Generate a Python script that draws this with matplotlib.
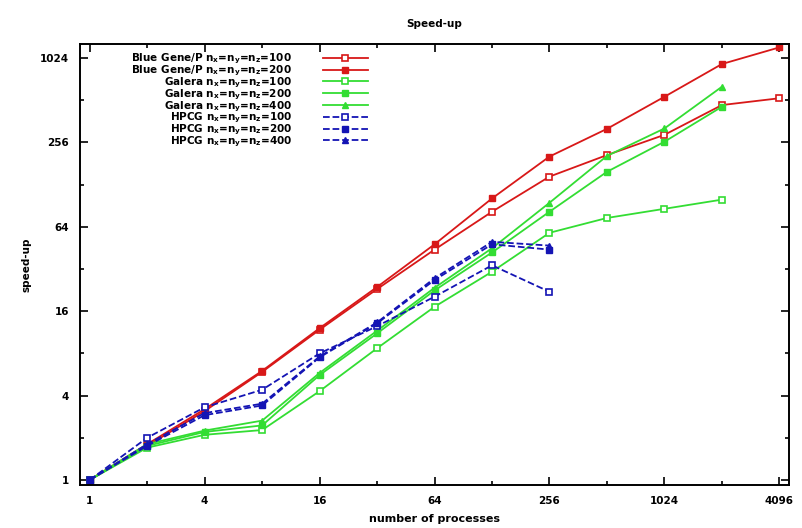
import matplotlib
matplotlib.use("Agg")
import matplotlib.pyplot as plt
from matplotlib.ticker import NullFormatter

procs = [1, 2, 4, 8, 16, 32, 64, 128, 256, 512, 1024, 2048, 4096]
procs_hpcg = [1, 2, 4, 8, 16, 32, 64, 128, 256]

bgp_100 = [1, 1.75, 3.1, 5.9, 11.8, 23.0, 44, 82, 146, 208, 290, 473, 529]
bgp_200 = [1, 1.8, 3.2, 6.0, 12.1, 23.8, 48, 102, 203, 320, 542, 928, 1220]
galera_100 = [1, 1.7, 2.1, 2.27, 4.3, 8.7, 17.2, 30.6, 58, 74, 86, 100]
galera_200 = [1, 1.75, 2.2, 2.45, 5.6, 11.1, 22.5, 42, 82, 158, 259, 460]
galera_400 = [1, 1.8, 2.25, 2.65, 5.8, 11.6, 23.5, 45, 95, 205, 322, 639]
hpcg_100 = [1, 2.0, 3.3, 4.4, 8.0, 12.5, 20.3, 34, 22]
hpcg_200 = [1, 1.75, 2.9, 3.4, 7.5, 13.1, 26.7, 48, 44]
hpcg_400 = [1, 1.8, 3.0, 3.5, 7.6, 13.3, 27.5, 50, 47]

xticks = [1, 4, 16, 64, 256, 1024, 4096]
yticks = [1, 4, 16, 64, 256, 1024]

red = "#d81818"
green = "#33dd33"
blue = "#1414b4"

plt.rcParams["font.family"] = ["DejaVu Sans"]
plt.rcParams["font.weight"] = "bold"
plt.rcParams["mathtext.default"] = "bf"

fig = plt.figure(figsize=(8.02, 5.28), dpi=100)
ax = fig.add_axes([0.0998, 0.0814, 0.884, 0.8353])

sub = r"n$_x$=n$_y$=n$_z$="
ax.plot(procs, bgp_100, "-", color=red, lw=1.3, marker="s", mfc="white", ms=5, mew=1.2,
        label="Blue Gene/P " + sub + "100")
ax.plot(procs, bgp_200, "-", color=red, lw=1.3, marker="s", ms=5,
        label="Blue Gene/P " + sub + "200")
ax.plot(procs[:12], galera_100, "-", color=green, lw=1.3, marker="s", mfc="white", ms=5, mew=1.2,
        label="Galera " + sub + "100")
ax.plot(procs[:12], galera_200, "-", color=green, lw=1.3, marker="s", ms=5,
        label="Galera " + sub + "200")
ax.plot(procs[:12], galera_400, "-", color=green, lw=1.3, marker="^", ms=5,
        label="Galera " + sub + "400")
ax.plot(procs_hpcg, hpcg_100, "--", color=blue, lw=1.3, marker="s", mfc="white", ms=5, mew=1.2,
        label="HPCG " + sub + "100")
ax.plot(procs_hpcg, hpcg_200, "--", color=blue, lw=1.3, marker="s", ms=5,
        label="HPCG " + sub + "200")
ax.plot(procs_hpcg, hpcg_400, "--", color=blue, lw=1.3, marker="^", ms=5,
        label="HPCG " + sub + "400")

ax.set_xscale("log", base=2)
ax.set_yscale("log", base=2)
ax.set_xlim(0.89, 4600)
ax.set_ylim(0.92, 1290)
ax.set_xticks(xticks)
ax.set_xticklabels([str(t) for t in xticks])
ax.set_yticks(yticks)
ax.set_yticklabels([str(t) for t in yticks])
ax.set_xticks([2, 8, 32, 128, 512, 2048], minor=True)
ax.set_yticks([2, 8, 32, 128, 512], minor=True)
ax.xaxis.set_minor_formatter(NullFormatter())
ax.yaxis.set_minor_formatter(NullFormatter())
ax.tick_params(which="both", direction="in", top=True, right=True, labelsize=7.5, width=1.2)
ax.tick_params(which="major", length=6, pad=8)
ax.tick_params(which="minor", length=3)
for s in ax.spines.values():
    s.set_linewidth(1.4)

ax.set_title("Speed-up", fontsize=7.5, fontweight="bold", pad=12)
ax.set_xlabel("number of processes", fontsize=8, fontweight="bold", labelpad=6)
ax.set_ylabel("speed-up", fontsize=7.5, fontweight="bold", labelpad=6)

leg = ax.legend(loc="upper right", bbox_to_anchor=(0.406, 0.982), frameon=False,
                markerfirst=False, fontsize=7.5, handlelength=4.3, handletextpad=3.0,
                labelspacing=-0.25, borderpad=0, borderaxespad=0)
for col in leg._legend_handle_box.get_children():
    col.align = "right"

fig.savefig("out.png", dpi=100)
